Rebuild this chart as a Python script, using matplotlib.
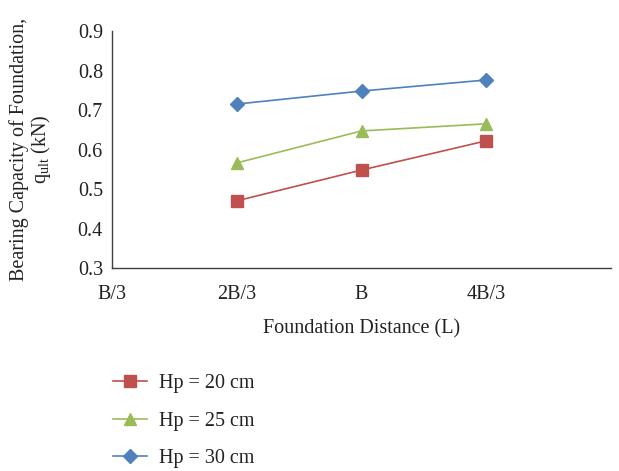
import matplotlib
matplotlib.use("Agg")
import matplotlib.pyplot as plt

plt.rcParams['font.family'] = ['Liberation Serif', 'DejaVu Serif']
plt.rcParams['mathtext.fontset'] = 'custom'
plt.rcParams['mathtext.rm'] = 'Liberation Serif'
plt.rcParams['mathtext.it'] = 'Liberation Serif'

categories = ["B/3", "2B/3", "B", "4B/3"]
series_labels = ["Hp = 20 cm", "Hp = 25 cm", "Hp = 30 cm"]
hp20 = [None, 0.470, 0.548, 0.622]
hp25 = [None, 0.566, 0.647, 0.665]
hp30 = [None, 0.715, 0.748, 0.776]
y_ticks = [0.3, 0.4, 0.5, 0.6, 0.7, 0.8, 0.9]

colors = ["#C0504D", "#9BBB59", "#4F81BD"]
markers = ["s", "^", "D"]
msizes = [8.5, 8.5, 7]
fs = 14.5

fig = plt.figure(figsize=(6.19, 4.71), dpi=100)
ax = fig.add_axes([112 / 619, 1 - 268 / 471, (611 - 112) / 619, (268 - 31) / 471])

for vals, lab, c, m, ms in zip([hp20, hp25, hp30], series_labels, colors, markers, msizes):
    xs = [i for i, v in enumerate(vals) if v is not None]
    ys = [v for v in vals if v is not None]
    ax.plot(xs, ys, color=c, marker=m, markersize=ms, linewidth=1.2, label=lab)

ax.set_xlim(0, 4)
ax.set_ylim(0.3, 0.9)
ax.set_xticks(range(len(categories)))
ax.set_xticklabels(categories)
ax.set_yticks(y_ticks)
ax.set_yticklabels([f"{t:.1f}" for t in y_ticks])
ax.tick_params(axis='both', length=0, labelsize=fs, colors="#222222")
ax.tick_params(axis='x', pad=12)
ax.tick_params(axis='y', pad=6.5)
for s in ["top", "right"]:
    ax.spines[s].set_visible(False)
for s in ["left", "bottom"]:
    ax.spines[s].set_color("#404040")
    ax.spines[s].set_linewidth(1.0)

ax.set_xlabel("Foundation Distance (L)", fontsize=fs, labelpad=11.5, color="#222222")
ax.set_ylabel("Bearing Capacity of Foundation,\n$\\mathrm{q}_{\\mathrm{ult}}$ (kN)",
              fontsize=fs, color="#222222", labelpad=18, linespacing=1.0)

handles, labels = ax.get_legend_handles_labels()
fig.legend(handles, labels, loc="upper left", bbox_to_anchor=(99 / 619, 1 - 360 / 471),
           frameon=False, fontsize=fs, labelspacing=0.92, handlelength=1.7,
           handletextpad=0.6, labelcolor="#222222", borderpad=0.2)

fig.savefig("out.png", dpi=100)
